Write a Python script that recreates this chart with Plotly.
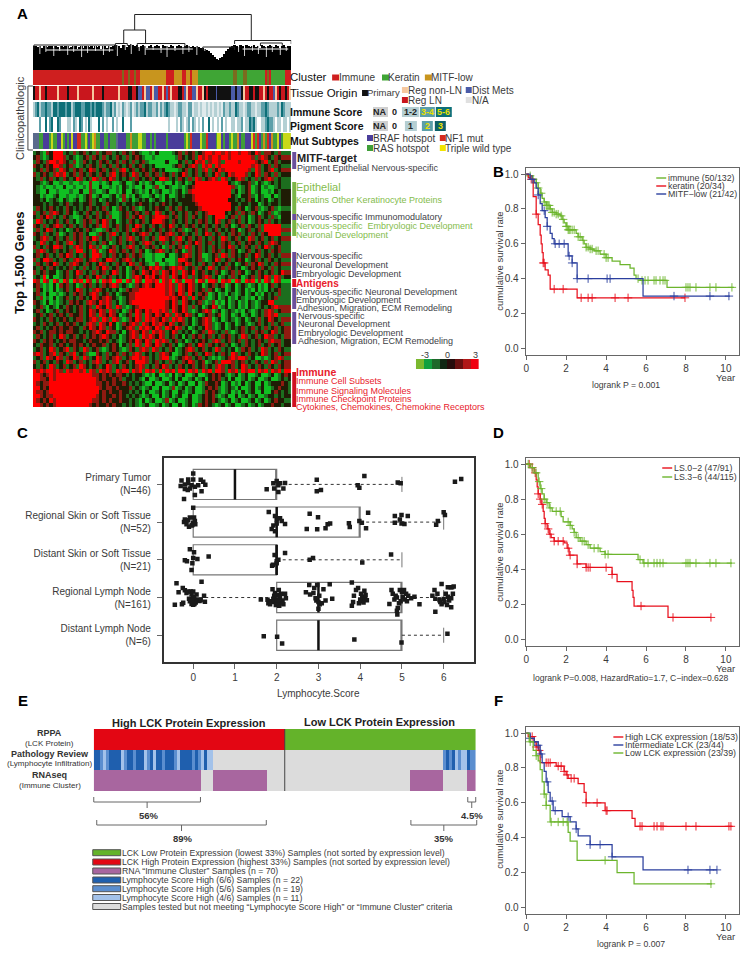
import numpy as np
import plotly.graph_objects as go

W, H = 748, 956
FONT = "Liberation Sans"
DARK = "#3a3a3a"

# ---------- Panel A data ----------
dendro_x = [50.7,50.7,109.4,109.4,None,45.2,45.2,56.2,56.2,None,101,101,129.5,129.5,None,114,114,125,125,None,
            41,41,47,47,None,52,52,76,76,None,0,0,41,41,None,85,85,101,101]
dendro_y = [40,55.5,55.5,30,None,27,40,40,27,None,26,29.5,29.5,26,None,24,27,27,24,None,
            24,26.5,26.5,24,None,22,26.5,26.5,22,None,20,25,25,20,None,20,23,23,20]
dendro_low_x = [6,40,None,56,80,None,105,128]
dendro_low_y = [20,20,None,21,21,None,21,21]
leaf_heights = [24,24,23,24,22,24,24,23,24,24,22,24,23,21,24,23,24,24,22,23,24,24,21,23,24,22,24,24,23,24,
                22,24,23,24,21,24,24,22,24,23,24,25,25,24,22,25,25,23,25,26,25,24,25,23,24,25,24,22,24,25,
                23,24,25,24,22,25,24,24,23,25,24,22,24,25,24,23,24,25,24,23,24,23,24,23,22,22,21,20,19,17,
                15,13,11,10,12,13,16,19,21,23,24,25,24,23,25,24,22,25,24,23,24,25,23,24,22,25,24,23,24,25,
                24,23,25,24,22,24,25,23,24,24]
split_x = [3,6,10,13,17,20,24,27,31,35,38,42,46,49,53,56,60,64,67,71,75,78,82,86,103,106,110,113,117,120,124,127]
split_h = [16,18,14,19,15,18,13,17,19,15,18,14,20,16,19,15,20,17,13,19,16,18,15,19,18,14,19,16,13,18,15,19]
cluster = "I"*45 + "OIIOIIOII" + "M"*13 + "IIII" + "MMMM" + "II" + "MM" + "I" + "MMM" + "K"*18 + "OO" + "KKK" + "OO" + "K"*9 + "IOI" + "K"*7 + "III"
tissue = "".join(["KRRPRRKRRR","RRPRRRRKRR","RRPRRRRRRR","PRRRRKRRRR","RRRPRRRRKK","RRKBBRPBBR","PBBRRPRBRP","RRRKKRBPRR","BBPRRPKRKK","KKBKKKKKKK","BBKBBKPRRK","KRKKRRPRKR","RBPRKRRKRP"])
immune = "".join(["abcabbcbba","ccbcccbcca","bcccbbcccb","cbcccbabbc","abNaNbaNab","Nababbcabb","aabNbabcba","aNabbaaNbb","NaaNaNNaNa","NaaNaNbaab","aacbaaNabb","aaNaabbcba","aaabacbaaa"])
pigment = "".join(["NNNbNNcNbc","NNcbNNNaaN","baNcbNaNca","NNNcNbNaNN","bNaNNcNNNb","NNNNNNNNNN","NNNNNNNNaN","NNaNbaNabN","baNaNbNNcN","aNNaNbNaNN","aaNaabNaac","bcaNNaabcb","baNaaNaaNa"])
mut = "".join(["VVVGGBBBGY","GGBBYGBGBY","BBRRGGYGBG","YOGGBBGGBG","GGVBBBBGGO","GGGYYGGBBG","BGBBBBBGBB","BBBBBBGYGR","BBBBYGGRBB","BBGYYBGBBG","YGGOBGGBBB","YRGRBGOGRB","OGGYBGYYYY"])
heat_rows = [
"gkgGrkRRRgkgrgkrgkgrgkrrgkgrkgrkgGGgGkGGGGgkrgrkrgkrRRrRRrRrRRrRRrkRrgrrkgrg",
"krgGgkRRRrgkgGgkrgrkgrgkgrkgrgkrkgGGgGGGGGGgrkgkrgRrRrRRrRRrRRRRRRrgrRrkgrkr",
"grkgrRRrRrkgrGgrkgkgrkrgkrgrkgrgkrgGGGGGkGGGkgrgkRrRgrRRrgRRRRrRRRRrkrRgkrgk",
"rkgkrkRRrgkrgGgkgrkgrgkrgrkgkrgkrgkgkGGGGGgkrgkrRrgRrRgRrRRRRRRRRRrRrgkrgrkg",
"gkrgrkrgRrkgrkrgkRrgkrgkrgrRgkrgkrkgrkgkGGGGgkrgkrgrRgrkRrRRRRRRRrgRrgkrRgkr",
"rgkrkgrRrRgkrgrkgrkgrkgrRgkrkgRrgkrgkrgrkgrgkRrgkrgkrgkRrgkRrRRRrgkRrgrkgrgk",
"kgrgkrgkgrkgkRrgkgRrgrkRrgkgkrgrkgkrgkRRrgkgrkgrgRrgkrRrgRrgkrRrgkgrgkrRrgkg",
"kkgGgkGGgGGgGGgGGrGGgGgkGGgkGGgkGgGgkGGgGGkGgkGgkRRRRRRRRRRkgGgkkrgGkgGgkgkg",
"kgGgGGgGGkGGgGGgGrGGkGGgGgGkgGgGGkGGgrGGkgGGgGgkrRRRRRRRRRRRrgGgkrGgkGgGGgkg",
"kgGGkGGgGGGgGGkGGrgGGgkGGgGkGGkgGgGkGgkGGgGgkGgrRRRRRRRRRRRRgkGgkrGgkGGgGkgk",
"kkGgGGgkGGgGGgGgkrGgkGGgkGgrGgGkgGGgkGgGkGGgkgkkrRRRRRRRRRRRkgGkkrgGkgGGkGgk",
"kkgkGgkgGkgGgkGgkrgkGgkgkgGrgkGgkgkGgkgGkgkgkkkkrRRRRRRRRRRkkgkgkrkGkgkGgkgk",
"kkkgkgkkgkrgkkgkkrgkkgrkkgkgkkgkrkkgkgkrkgkkgkkkkrRRRRRRRRRRkkgkkgkkGgkgkkgk",
"grkgkrkgkgrkgkgkgrkgkrgkGgrkgkrgGgkgkrkkgrkgrkgkkkrRRRRRRRRRkgrkGgkrgGgkrgGg",
"rgkrgrRrkgrkGgkgrkgrgkrgGGgkrgkrkgrkgRrgkgrkgkrgkrgkrRRRRRkgkrgrkgrkGgkrgGgk",
"kgrkRrgkgrkgGGgkrgkrgkgrGGgkrgrkRrgkrRRRrgkrgkrgrkgkrgkRRRgkrgrgkGgkrgkgrgGk",
"gRrgkgkrgkrgkGgrkrgrkRrgkGgkgrkgkrgkRRRrkgrkgkrgkgrkrgkRrgkrgkrgkGgkrkgrgkgk",
"rkgrgkrRrgkrgkgrkgkrgRrgkrgkrgkRrgkgrkgrkRrgkgrkrgkgrkgrkgrkGgkrgrkgrgRRRRRg",
"grgkRrgkgkGgkrkgrkgGGgrkgrgkrgRrkgkrgkrgkrgkrgGgkrgkrgkrgkgkrkGgkrgkrgRRRRRr",
"rkgrgkgrGgkgrkrgkGGgrkgrRgkgrkgkrRrgkgrkrRrgkrgkgrgkRrgkrgkgrkrgkgrkgrkRRRRg",
"gkrRrgkrgkrgrkrgrkRrgkgrgkrgrRrgkrgkrgRRrkgrRgkrgkrgkgrkgRrgkrgkgRrgkrgkrgkr",
"kgRrgkgrkgrRgkrgkrgkgrkGgkrgkgrkgrRrgkgrgkrgrkgrkRrgkrgkgrkrgkrgkrkgrkgrRrkg",
"rgkgrkRRrgkgrRrgkRrgrGgkrgkgrRrgkgrkrgkGgrgkrgRrgkrgkgrkgrkRrgkgrkgrgkRrgkrg",
"grRrgkrgkgkrgRRgkgRrGgkRrgkrgkrgrkGgkrRrgkgrkGgrgkrgkgrkrgkgrkGgkrgkrgkgrkrg",
"krgkrgkgrkRrgkgrkgRRrgkgrkgkrgrkrgGGgGGGkGGgkrRrgkrGGgkrgRrgrkgkrgkRrgkrgkgr",
"rgkRRrgkgrkgrRrgkrRrgkRRrgkrRrgkgkGGgGGkGGGgRRrkgkrgGgkRrgkrgkrkGgkrgkgrkgkg",
"grkgrkRrgkgrRrkgrkgkRrgkgrkgkRrgrkgGGrGGgGGgrkRrgkgrkgrkgkrgkGgkrgrkRrgkgrkr",
"kgrkgrkgkgkrgkgrgkgrkRrgkrgkGgkrgrkRrRrgkrRrRrgkrgrkgRrgkrgrkgkGgkrkgrkgrgkg",
"rgkrgkkGgkrgkRrgkgrgkrgkRrgkGgrkgRrkRrgRrkRrgRrkRgkrgkgrkGgkrgrkGgkgrkgkrgkRr",
"gkgRGkGGgkrgkrgkrgkRrgkrgkgkGgrRrkRrRkrRrgRrkRrgrgkrRrgkGgkgrgkGgkrgrkRrgRrgk",
"RrGRrGRrGRrGRrRGRrGrGRrRGRRGRrGRrGRRrRGRrRGRrGRRrGRrGRRrGRrRGRrGRrRGrGRrGRrG",
"krgGgGkGrkrgkGgrkrgkgrkrRrgkgGgrkrRrkRRRrRrgRrkRrgkGgkrgkrGgkGgkgGgkGgGkrgkg",
"grkGgGkGgkrgkRrgkgrRrkgkgkGgrkrrRRRRRRRRrRrgRrkRrgkrgrkGgkGgkGgkGgGkGgGkgkrg",
"krgGkGGgGgkgrkrgkrRrgkrgkGgkkrrRRRRRRRRRrRrkRrgRkgrkrGgkGgGkgGgkGgkGgGkgkgrg",
"kgrGgGkGgkrgkgrkgkRrkrRrkgGgkrrRRRRRRRRRRrRrkRrgRgkrgGgkGgkGgGkgGgGkGgkgkrg",
"rkgGkGgGgkgrkrkgrRrkRrRrgkGgkrRRRRRRRRRRrkRrgRrkgkrgGgrGgGkGgkGgGkgGgkkRRg",
"gkrgGkgGkgrkgkrgkrgRrkRrgRrgGgkrRRRRRRRRrkRrkRrgrgkGgkRrGgkGgkGgGkgGgkgkrRrr",
"krgkGgkrgkrkgkrgkRrkRrgRrgkGgrkRrkRrRRrRrgRrkRrgGgkrRrGgkGgkgGgGkgGgkgrRrgkr",
"gkrgkrgkrkgrkkrgkRrgRrkRrkGgkrgRrgRrkRrkRrgRrkRrgkGgkrgkrGgkGgkGgkGgkgrRrRg",
"rkgkgrkgkrkgkrrgkrRrgRrgRrgGgrkRrgRrRrkRrgRrRrgkGgkrRrGgkGgkgGgkGgkgrgkRrkgr",
"gkgrkgkrgkrkrgkgrRrgRrkRkGgrkrRrgRrkRrRrkRrgkrgkGgkrRrgGgkGgkGgkgGgkrgkgrgkrg",
"krgkgkrkrkkrkkgrkRrkRrgrkGgkrRrgRrRrkRrgRrkRrgkGgkgkRrgGgkGgkgkrgkrgkgrgkrgkr",
"rkrgkrrkrkrrkkgkgkrRrkRrrgkGkrRrkRrgRrRrgkRrgkgkGgkrgRrgkgrgGgkrgkgrkrgkRrgkr",
"grkgkrgkRrgkrgkrgkrkrRrkgkGgkrRrgRrRrkRrgkrgkGkgrkrgkrgkgrkrgkgRrgkrgkRrrgkgr",
"rkgrkrkgkrkrrkkgkrkkrkrgkgGgkrkRrkRrgRrRrgkrgkGgkgkrkgrRrgkrgkrgrkgkrkgrRrrgk",
"kgrkkrgkrkgkrkrkgkrkkrgkrkGkgrgRrgRrkRrgkrgkGgkrgkRrgrkgkrgkGgkgrkgkrgkrgkrgk",
"gkrgkRrgkrRgrkgRrgkrgGgkrkgGgrkgrRrgRrgkgrkGgkrRrgkrgkgRrgkgkGgrkrgkgRrgkgrkg",
"rRrgkrRgrkgrRgkrgGGrkgrgkrgrkgrRrgkgkgrRrkGGgkrgkrgkRrgkgrkgRrgkgrkgkRrgkrgkr",
"gkrgRrkRrgrkRrgRrgkRrgrkrRrgkrRRrRrgkgrRRgGgkrRrgkrgkgGgGgkrRrRRrgkGGgGgkrRrg",
"rgkrgkgrkgRrgkrgkgrRrgkgrRgkrgkRRRrgkrgkgrgkgrkRrgkrGgkrgRRRrgkrgkgrkgrgRrgkr",
"kgrkgRrgkrgkrgRrkgkrgkRrgkgrkgkrRrgkgrkRrgkgrkgkrgkrgkgrRrgkrgkRrgkgrkgrkgrkr",
"RrRrRRrRrgRrRRrRgRrgRrRrgRrRRgRrRgRrRgRgRrRgRRgRrRgRrRgRRrgRrRgRrRRgRrRgRrRgR",
"RRrkrRrRRRRRRRRRRRrrkrkrkrrkgkgkkgGgGkGGgGkGgkGGgkGGgkrkrkgGgkGgkGGgkGGgkGgkrk",
"RRrrkRrRRRRRRRRRRRRrkrkkrkrgkkgkgGkGGgkGGgkGkGGgkGgkGkrkrgkGkGGgkGgkGGgkGGgkgk",
"RrkrrRRRRRRRRRRRRRRrrkrkrkkrkgkgkgGGkGGgkGgkGgkGGkGgrkkrkGgkGgGkGgkGGkGgkkkrkg",
"RRkrkRRRRRRRRRRRRRRRrkrrkrkkkrgkgGgkGGkGGgrGgkGgkGGgkrkrgGgkgGkGGgkGgkGGgkrkkg",
"RrrkrRRRRRRRRRRRRRRRkrkrkkrkkgkgkGkGGgkGgkGGkgGgkGGgrkrkgGgkGgGkGgkGGkGGkrkgkg",
"RRrkrrRRRRRRRRRRRRRrkrkkrkrkgkgkgGgkGGkGgkGgkGGkGGgkrkrgGgkGGkGgkGgkGGgkkgkgk",
"RrkrkRrRRRRRRRRRRRrrkrkrkkrkkgkgGkGgkGGgrGgkGGgkGGgkrkrkgGgkGgkGGgkGgkGgkrkkg",
"RRrkrkrRRRRRRRRRRrkrkkrkrkkgkgkgGgkGGgkGgkGGkGgkGgrkrkgGgkGgkGGgkGgkGgkkrkkgk",
]
key_values = [-3,-2,-1,-0.3,0.3,1,2,3]

# ---------- Panel C data ----------
c_rows = [1,2,3,4,5]
c_labels = ["Primary Tumor<br>(N=46)","Regional Skin or Soft Tissue<br>(N=52)","Distant Skin or Soft Tissue<br>(N=21)",
            "Regional Lymph Node<br>(N=161)","Distant Lymph Node<br>(N=6)"]
c_q1 = [0,0,0,2,2]; c_med = [1,2,2,3,3]; c_q3 = [2,4,2,5,5]
c_low = [0,0,0,0,2]; c_high = [5,6,5,6,6]
r1_x = [0.0,-0.12,0.0,-0.28,0.18,0.24,-0.30,-0.2,-0.12,-0.04,0.04,0.12,0.29,-0.2,-0.08,0.2,0.04,-0.22,-0.13,1.76,1.92,2.0,2.08,2.2,1.94,2.04,2.16,2.04,2.96,2.96,3.06,4.1,3.94,3.98,4.9,4.97,6.27,6.42]
r1_j = [-.29,-.13,-.13,-.1,-.12,-.07,.04,0,-.03,.02,.06,.02,.01,.12,.11,.18,.28,.39,.15,.13,-.03,-.09,-.03,-.04,.11,.2,.11,.02,-.12,.18,.15,-.22,.02,.09,-.05,-.03,-.07,-.14]
r2_x = [0,0.02,-.08,-.2,-.22,-.16,-.04,.04,-.1,0,-.02,.05,-.12,1.81,1.96,2,2.08,2.12,1.92,1.88,1.96,2,2.2,2.79,2.99,2.72,2.97,3.17,3.22,3.28,3.73,3.75,3.98,4.04,4.14,4.19,4.83,4.83,4.95,4.99,4.99,5.06,5.14,5.82,5.86,6,6.03]
r2_j = [-.38,-.12,-.12,-.07,0,.06,.09,-.03,.12,.02,.08,.06,-.05,-.27,-.16,-.07,-.1,-.03,.09,.18,.24,.04,.05,-.22,-.13,.18,.19,.16,.06,.04,.03,.13,-.03,.02,.16,-.25,-.16,.02,-.07,-.19,.04,.05,-.16,.07,-.03,-.26,-.19]
r3_x = [-.08,.02,0,.1,.37,-.2,-.15,-.02,-.04,1.95,2.2,1.91,1.89,2,2.04,2,2.79,2.87,4.05,4.74]
r3_j = [-.28,-.2,-.05,-.02,-.09,.01,.04,.09,.27,-.13,-.18,.13,.16,.04,0,.09,0,-.05,.07,-.14]
r4_x = [-.44,-.4,-.35,-.25,-.24,-.2,-.16,-.12,-.1,-.06,-.04,-.02,0,0,.02,.04,.06,.08,-.08,-.04,0,.03,.06,.1,.15,.2,.26,.28,.18,-.27,-.02,.02,
        1.62,1.78,1.8,1.84,1.86,1.9,1.92,1.94,1.96,1.98,2,2.02,2.04,2.06,2.08,2.1,2.14,2.16,2.2,2.22,1.94,2,2.05,2.1,2.03,
        2.7,2.78,2.8,2.88,2.9,2.93,2.95,2.97,3,3,3.02,3.03,3.08,3.12,3.17,3.27,3.33,
        3.8,3.8,3.83,3.85,3.9,3.95,3.97,4,4.02,4.03,4.05,4.08,4.1,4.12,4.13,4.16,
        4.7,4.75,4.78,4.82,4.85,4.88,4.88,4.89,4.9,4.93,4.95,4.97,5,5.02,5.05,5.07,5.1,5.12,5.15,5.22,5.3,5.42,
        5.73,5.78,5.8,5.8,5.85,5.9,5.92,5.95,5.95,6,6.02,6.05,6.08,6.1,6.1,6.13,6.17,6.18,6.18,6.2,6.22,6.24]
r4_j = [.19,-.38,-.14,-.25,.14,-.19,-.12,-.16,.03,-.16,-.08,.05,-.16,.02,.13,.08,.13,-.08,.1,.17,.19,.17,.09,.05,.09,-.42,-.05,.11,.07,.18,.06,-.02,
        .05,.06,.15,.18,.1,-.22,.03,.12,-.12,.2,.05,-.06,.14,.22,.02,-.1,.08,.18,-.1,.02,-.05,.16,-.2,.13,.08,
        -.14,-.33,-.08,-.12,-.25,.02,.08,-.33,.12,.3,-.05,.18,.15,-.22,.08,-.35,.03,
        -.4,.22,.12,-.05,-.2,-.25,.15,.05,-.1,.1,-.02,.13,-.18,.04,-.07,.07,
        .17,-.2,-.1,.05,-.05,0,.35,.45,.28,.15,-.2,.1,-.15,-.02,-.2,.05,-.1,.1,-.05,.02,-.02,.18,
        -.05,-.2,.03,.38,-.1,.07,.12,-.36,.18,.04,.12,-.1,.2,-.27,-.02,.08,-.27,.02,.26,-.27,-.1,-.29]
r5_x = [1.69,2.01,2.13,3.86,4.99,6.09]
r5_j = [.03,.04,.22,.11,.19,-.04]

# ---------- Survival data ----------
b_imm_t = [0,.1,.3,.5,.6,.7,.8,.9,1,1.2,1.3,1.5,1.7,1.8,1.9,2,2.1,2.5,2.6,2.8,2.9,3,3.2,3.4,3.7,4,4.3,4.7,5.2,5.4,5.5,5.7,7.05,10.4]
b_imm_s = [1,.99,.97,.95,.92,.89,.86,.84,.82,.8,.78,.77,.76,.74,.72,.7,.68,.66,.64,.62,.6,.58,.57,.56,.54,.52,.5,.48,.46,.42,.4,.39,.35,.35]
b_imm_c = [.2,.35,.5,.6,.75,.9,1,1.05,1.1,1.15,1.2,1.3,1.4,1.5,1.6,1.75,1.85,2,2.05,2.1,2.15,2.2,2.3,2.4,2.6,2.7,2.85,3,3.1,3.2,3.3,3.5,3.6,3.9,4,4.1,5.6,5.8,5.95,6.1,6.4,6.5,6.7,6.85,6.95,8,8.1,8.2,8.5,9.2,9.5,10.3]
b_ker_t = [0,.1,.2,.35,.5,.6,.7,.75,.8,.85,.95,1.1,1.2,2.55,7.95]
b_ker_s = [1,.98,.97,.87,.77,.71,.65,.6,.55,.49,.45,.42,.34,.29,.29]
b_ker_c = [.25,.5,.85,.9,1.4,1.85,2.75,3.1,3.3,4.45,5.1,7.95]
b_mit_t = [0,.2,.4,.5,.6,.7,.8,.95,1.05,1.2,1.3,1.4,2.1,2.3,2.55,5.85,10.2]
b_mit_s = [1,.97,.95,.92,.88,.83,.79,.75,.7,.66,.63,.6,.53,.49,.4,.3,.3]
b_mit_c = [.3,.6,.9,1.05,1.45,1.65,1.9,2.15,2.3,2.55,3.1,4.05,4.2,7.4,9.2,10.15]
d_low_t = [0,.2,.4,.5,.55,.6,.7,.75,.85,.9,.95,1.05,1.15,1.25,1.4,1.9,2.05,2.15,2.55,3,4.3,4.55,5.3,5.35,5.4,7.1,9.25]
d_low_s = [1,.98,.95,.91,.87,.83,.8,.77,.73,.69,.66,.63,.6,.58,.56,.55,.52,.48,.43,.41,.37,.33,.28,.24,.19,.125,.125]
d_low_c = [.15,.3,.45,.6,.7,.8,.95,1.1,1.2,1.4,1.6,1.85,2.1,2.2,2.55,3,3.1,3.2,4,4.3,5.75,7.35,9.25]
d_hi_t = [0,.2,.4,.6,.7,.8,.9,1,1.15,1.3,1.75,1.85,2.2,2.3,2.4,2.5,2.7,3,3.2,3.7,3.95,5.6,5.85,10.3]
d_hi_s = [1,.98,.95,.9,.86,.83,.8,.78,.75,.73,.7,.67,.65,.63,.61,.58,.56,.54,.52,.5,.485,.455,.435,.435]
d_hi_c = [.1,.3,.5,.65,.75,.9,1.05,1.2,1.5,1.7,2.1,2.2,2.4,2.6,2.8,2.9,3.1,3.4,3.6,3.95,4.1,5.7,5.9,6.1,6.4,6.55,6.7,6.85,8,8.1,8.2,8.5,9.2,9.5,10.25]
f_hi_t = [0,.1,.4,.5,.6,.7,1.5,1.9,2,2.1,2.6,2.9,3,3.95,5.3,5.45,10.3]
f_hi_s = [1,.98,.95,.92,.9,.83,.81,.78,.76,.74,.71,.66,.6,.555,.51,.465,.465]
f_hi_c = [.3,.5,.65,1,1.1,1.2,1.6,1.75,1.9,2.05,2.25,2.4,3,3.55,4,4.05,5.7,5.8,6.4,6.55,6.75,6.85,8,8.5,10.15,10.25]
f_mid_t = [0,.2,.4,.6,.7,.8,.9,1,1.1,1.2,1.35,1.8,2.2,2.5,2.6,3.2,4.3,5.85,9.55]
f_mid_s = [1,.97,.95,.93,.88,.83,.78,.72,.66,.61,.555,.52,.49,.45,.41,.36,.29,.215,.215]
f_mid_c = [.2,.4,.6,.75,1.05,1.3,1.45,2.1,2.5,3.2,3.7,4.3,8.1,9.2,9.55]
f_low_t = [0,.15,.35,.5,.6,.7,.8,.9,1,1.2,2.1,2.2,2.55,4.55,5.4,9.3]
f_low_s = [1,.95,.9,.87,.84,.79,.72,.65,.585,.49,.43,.38,.27,.2,.135,.135]
f_low_c = [.2,.5,.9,1,1.25,1.6,1.85,2.05,3.95,9.25]

# ---------- Panel E data ----------
rppa = "H"*64 + "L"*64
pathology = "1123211113211211132131121112311112123133" + "0"*77 + "21213233122"
rnaseq = "P"*36 + "0"*4 + "P"*18 + "0"*48 + "P"*11 + "0"*8 + "P"*3

RED, GREEN, BLUE = "#e8101c", "#6cb52d", "#2b3f9e"

fig = go.Figure()
layout = {}
ax_n = [0]
def P(x, y):
    return x / W, 1 - y / H
def axes(x0, y0, x1, y1, xa=None, ya=None):
    ax_n[0] += 1
    n = ax_n[0]
    xa = dict(xa or dict(visible=False)); ya = dict(ya or dict(visible=False))
    xa.update(domain=[x0 / W, x1 / W], anchor=f"y{n}")
    ya.update(domain=[1 - y1 / H, 1 - y0 / H], anchor=f"x{n}")
    layout[f"xaxis{n}"] = xa; layout[f"yaxis{n}"] = ya
    return f"x{n}", f"y{n}"

def strip(rows, palette, box):
    n = len(palette); keys = list(palette)
    ln = max(len(r) for r in rows)
    z = [[keys.index(c) + .5 for c in r.ljust(ln, r[-1])] for r in rows]
    cs = []
    for i, k in enumerate(keys):
        cs += [[i / n, palette[k]], [(i + 1) / n, palette[k]]]
    xr, yr = axes(*box, ya=dict(visible=False, autorange="reversed"))
    fig.add_trace(go.Heatmap(z=z, colorscale=cs, zmin=0, zmax=n, showscale=False, xaxis=xr, yaxis=yr, hoverinfo="skip", xgap=0, ygap=0))

anns, shapes = [], []
def text(x, y, s, size=9.5, color=DARK, anchor="left", bold=False, angle=0):
    if anchor == "left":
        x -= 2
    px, py = P(x, y)
    anns.append(dict(x=px, y=py, xref="paper", yref="paper", text=f"<b>{s}</b>" if bold else s, showarrow=False,
                     xanchor=anchor, yanchor="middle", textangle=angle, borderpad=0,
                     font=dict(family=FONT, size=size, color=color)))
def rect(x0, y0, x1, y1, color, line=None):
    a, b = P(x0, y0); c, d = P(x1, y1)
    shapes.append(dict(type="rect", xref="paper", yref="paper", x0=a, y0=b, x1=c, y1=d, fillcolor=color,
                       line=dict(color=line or color, width=1 if line else 0)))
def seg(pts, color="#555", width=1):
    for (x0, y0), (x1, y1) in zip(pts, pts[1:]):
        a, b = P(x0, y0); c, d = P(x1, y1)
        shapes.append(dict(type="line", xref="paper", yref="paper", x0=a, y0=b, x1=c, y1=d, line=dict(color=color, width=width)))

# ---------- A ----------
xr, yr = axes(31, 14, 290, 70, xa=dict(visible=False, range=[-.5, 129.5]), ya=dict(visible=False, range=[0, 56]))
fig.add_trace(go.Bar(x=list(range(len(leaf_heights))), y=leaf_heights, marker=dict(color="black", line_width=0), width=.92, xaxis=xr, yaxis=yr, hoverinfo="skip"))
sx, sy = [], []
for a, b in zip(split_x, split_h):
    sx += [a, a, None]; sy += [b, 30, None]
fig.add_trace(go.Scatter(x=sx, y=sy, mode="lines", line=dict(color="white", width=.8), xaxis=xr, yaxis=yr, hoverinfo="skip"))
fig.add_trace(go.Scatter(x=dendro_x, y=dendro_y, mode="lines", line=dict(color="#222", width=1), xaxis=xr, yaxis=yr, hoverinfo="skip"))
fig.add_trace(go.Scatter(x=dendro_low_x, y=dendro_low_y, mode="lines", line=dict(color="white", width=1), xaxis=xr, yaxis=yr, hoverinfo="skip"))

strip([cluster], {"I": "#cf1f1f", "K": "#3fa535", "M": "#c8951e", "O": "#7c6a1f"}, (31, 70, 290, 85))
strip([tissue], {"K": "#111111", "R": "#c9161d", "P": "#f6c79e", "B": "#4a5ba8"}, (31, 86, 290, 100))
strip([immune], {"N": "#dfeaec", "a": "#b4d0d4", "b": "#5b9fa9", "c": "#0d6f78"}, (31, 102, 290, 117))
strip([pigment], {"N": "#ffffff", "a": "#b4d0d4", "b": "#5b9fa9", "c": "#0d6f78"}, (31, 117, 290, 132))
strip([mut], {"V": "#5a6a8c", "B": "#4a3d9a", "G": "#3f9e38", "Y": "#c8d81a", "R": "#d52b1e", "O": "#d08a1e"}, (31, 133, 290, 149))
strip(heat_rows, {"R": "#ff0000", "r": "#8f1a10", "k": "#1f1c05", "g": "#1c6e1e", "G": "#10c022"}, (31, 151, 290, 407))

xr, yr = axes(415, 359, 478, 369)
fig.add_trace(go.Heatmap(z=[key_values], zmin=-3, zmax=3, showscale=False, xaxis=xr, yaxis=yr, hoverinfo="skip",
    colorscale=[[0, "#7ab82e"], [.17, "#10a040"], [.33, "#1f6b2c"], [.5, "#0a0a0a"], [.67, "#6b1010"], [.83, "#b01818"], [1, "#f00010"]]))
text(421, 355, "-3", 9); text(447, 355, "0", 9, anchor="center"); text(473, 355, "3", 9)

text(21, 14, "A", 15, "black", "center", True)
text(21, 432, "C", 15, "black", "center", True); text(21, 700, "E", 15, "black", "center", True)
text(498, 172, "B", 15, "black", "center", True); text(498, 432, "D", 15, "black", "center", True); text(498, 700, "F", 15, "black", "center", True)
text(18, 118, "Clinicopathologic", 11, DARK, "center", angle=-90)
text(18, 263, "Top 1,500 Genes", 13, "#111", "center", True, angle=-90)
seg([(31, 86), (26, 86), (26, 150), (31, 150)], "#444", 1)

text(290, 77, "Cluster", 11.5, "#111")
for x, c, t in [(331, "#cf1f1f", "Immune"), (381, "#3fa535", "Keratin"), (424, "#c8951e", "MITF-low")]:
    rect(x, 74.5, x + 7, 80.5, c); text(x + 7.5, 77, t, 10)
text(290, 93, "Tissue Origin", 11.5, "#111")
rect(361, 90, 367, 96, "#111"); text(367, 93, "Primary", 9.5)
rect(401, 87, 407, 93, "#f6c79e"); text(408, 90, "Reg non-LN", 10)
rect(401, 97, 407, 103, "#c9161d"); text(408, 100, "Reg LN", 10)
rect(465, 87, 471, 93, "#4a5ba8"); text(472, 90, "Dist Mets", 10)
rect(465, 97, 471, 103, "#e0e0e0"); text(472, 100, "N/A", 10)
text(290, 112, "Immune Score", 10.5, "#111", bold=True)
text(290, 126, "Pigment Score", 10.5, "#111", bold=True)
text(290, 141, "Mut Subtypes", 10.5, "#111", bold=True)
chips = [(372, 387, 112, "NA", "#cfcfcf", "#222"), (401, 418, 112, "1-2", "#b4ced2", "#222"), (419, 434, 112, "3-4", "#5b9fa9", "#e8e000"), (435, 451, 112, "5-6", "#0d6f78", "#e8e000"),
         (372, 387, 126, "NA", "#cfcfcf", "#222"), (404, 416, 126, "1", "#b4ced2", "#222"), (421, 432, 126, "2", "#5b9fa9", "#e8e000"), (434, 445, 126, "3", "#0d5f68", "#e8e000")]
for x0, x1, y, s, c, tc in chips:
    rect(x0, y - 5, x1, y + 5, c); text((x0 + x1) / 2, y, s, 9, tc, "center", True)
text(394, 112, "0", 9, "#222", "center", True); text(394, 126, "0", 9, "#222", "center", True)
for x, y, c, t in [(366, 138, "#4a3d9a", "BRAF hotspot"), (439, 138, "#d52b1e", "NF1 mut"), (366, 148, "#3f9e38", "RAS hotspot"), (439, 148, "#f2e500", "Triple wild type")]:
    rect(x, y - 3, x + 6, y + 3, c); text(x + 6.5, y, t, 10)

PUR, LG = "#6a4f9c", "#7ab648"
for y0, y1, c in [(152, 169, PUR), (182, 214, LG), (214, 220, PUR), (220, 236, LG), (252, 278, PUR), (279, 287, "#e01020"), (288, 309, PUR), (312, 344, PUR), (372, 407, "#d01020")]:
    rect(291, y0, 295, y1, c)
RT = "#e8202c"; LGT = "#84bc4c"; GT = "#3e3e46"
for x, y, s, sz, c, b in [
    (297, 158, "MITF-target", 11, "#222", True), (297, 167.5, "Pigment Epithelial Nervous-specific", 9, GT, False),
    (296, 187, "Epithelial", 11, LGT, False), (296, 200, "Keratins Other Keratinocyte Proteins", 9, LGT, False),
    (296, 217, "Nervous-specific Immunomodulatory", 9, GT, False), (296, 226, "Nervous-specific&nbsp;&nbsp;Embryologic Development", 9, LGT, False),
    (296, 234.5, "Neuronal Development", 9, LGT, False),
    (296, 256, "Nervous-specific", 9, GT, False), (296, 265, "Neuronal Development", 9, GT, False), (296, 274, "Embryologic Development", 9, GT, False),
    (296, 283.5, "Antigens", 10, RT, True), (296, 291.5, "Nervous-specific Neuronal Development", 9, GT, False), (296, 299.5, "Embryologic Development", 9, GT, False),
    (297, 307.5, "Adhesion, Migration, ECM Remodeling", 9, GT, False),
    (298, 316, "Nervous-specific", 9, GT, False), (298, 324.5, "Neuronal Development", 9, GT, False), (298, 333, "Embryologic Development", 9, GT, False),
    (298, 341, "Adhesion, Migration, ECM Remodeling", 9, GT, False),
    (296, 372, "Immune", 10.5, RT, True), (296, 381, "Immune Cell Subsets", 9, RT, False), (296, 390.5, "Immune Signaling Molecules", 9, RT, False),
    (296, 398.5, "Immune Checkpoint Proteins", 9, RT, False), (296, 407, "Cytokines, Chemokines, Chemokine Receptors", 9, RT, False)]:
    text(x, y, s, sz, c, bold=b)

# ---------- C ----------
xr, yr = axes(162, 458, 473, 662,
    xa=dict(range=[-.71, 6.72], tickvals=[0, 1, 2, 3, 4, 5, 6], ticks="outside", ticklen=5, tickcolor="#666", showline=True, mirror=True, linecolor="#333", linewidth=1.5, showgrid=False, zeroline=False, tickfont=dict(family=FONT, size=10, color=DARK)),
    ya=dict(range=[5.71, .3], tickmode="array", tickvals=c_rows, ticktext=c_labels, ticks="outside", ticklen=5, tickcolor="#666", showline=True, mirror=True, linecolor="#333", linewidth=1.5, showgrid=False, zeroline=False, ticklabelstandoff=4, tickfont=dict(family=FONT, size=10, color=DARK)))
fig.add_trace(go.Box(y=c_rows, q1=c_q1, median=c_q3, q3=c_q3, lowerfence=c_q1, upperfence=c_q3, orientation="h", width=.8,
                     fillcolor="rgba(0,0,0,0)", line=dict(color="#777", width=1.2), boxpoints=False, xaxis=xr, yaxis=yr, hoverinfo="skip"))
wx, wy, mx, my, cx, cy = [], [], [], [], [], []
for r, lo, a, m, b, hi in zip(c_rows, c_low, c_q1, c_med, c_q3, c_high):
    wx += [b, hi, None]; wy += [r, r, None]
    if lo < a:
        wx += [lo, a, None]; wy += [r, r, None]
    mx += [m, m, None]; my += [r - .4, r + .4, None]
    cx += [hi, hi, None]; cy += [r - .2, r + .2, None]
fig.add_trace(go.Scatter(x=wx, y=wy, mode="lines", line=dict(color="#333", width=1, dash="3px,3px"), xaxis=xr, yaxis=yr, hoverinfo="skip"))
fig.add_trace(go.Scatter(x=cx, y=cy, mode="lines", line=dict(color="#777", width=1), xaxis=xr, yaxis=yr, hoverinfo="skip"))
fig.add_trace(go.Scatter(x=mx, y=my, mode="lines", line=dict(color="#111", width=2.5), xaxis=xr, yaxis=yr, hoverinfo="skip"))
for r, xs, js in [(1, r1_x, r1_j), (2, r2_x, r2_j), (3, r3_x, r3_j), (4, r4_x, r4_j), (5, r5_x, r5_j)]:
    fig.add_trace(go.Scatter(x=xs, y=[r + j for j in js], mode="markers", marker=dict(symbol="square", size=4.5, color="#1a1a1a"), xaxis=xr, yaxis=yr, hoverinfo="skip"))
text(317, 693, "Lymphocyte.Score", 10, DARK, "center")

# ---------- Survival panels ----------
def km(box, curves):
    sx = dict(range=[-.03, 10.67], tickvals=[0, 2, 4, 6, 8, 10], ticks="outside", ticklen=4, tickcolor="#666", showline=True, mirror=True, linecolor="#666", linewidth=1, showgrid=False, zeroline=False, tickfont=dict(family=FONT, size=10, color=DARK))
    sy = dict(range=[-.038, 1.033], tickvals=[0, .2, .4, .6, .8, 1], tickformat=".1f", ticks="outside", ticklen=4, tickcolor="#666", showline=True, mirror=True, linecolor="#666", linewidth=1, showgrid=False, zeroline=False, tickfont=dict(family=FONT, size=10, color=DARK))
    xr, yr = axes(*box, xa=sx, ya=sy)
    for t, s, c, col in curves:
        fig.add_trace(go.Scatter(x=t, y=s, mode="lines", line=dict(shape="hv", color=col, width=1.25), xaxis=xr, yaxis=yr, hoverinfo="skip"))
        idx = np.searchsorted(t, c, side="right") - 1
        fig.add_trace(go.Scatter(x=c, y=np.array(s)[idx], mode="markers", marker=dict(symbol="cross-thin", size=6, line=dict(color=col, width=.9)), xaxis=xr, yaxis=yr, hoverinfo="skip"))
km((525, 168.3, 739.3, 355), [(b_imm_t, b_imm_s, b_imm_c, GREEN), (b_ker_t, b_ker_s, b_ker_c, RED), (b_mit_t, b_mit_s, b_mit_c, BLUE)])
km((525, 458.3, 739.3, 646), [(d_low_t, d_low_s, d_low_c, RED), (d_hi_t, d_hi_s, d_hi_c, GREEN)])
km((525, 727.3, 739.3, 914), [(f_hi_t, f_hi_s, f_hi_c, RED), (f_mid_t, f_mid_s, f_mid_c, BLUE), (f_low_t, f_low_s, f_low_c, GREEN)])
for y in (261, 552, 819):
    text(498, y, "cumulative survival rate", 9.5, DARK, "center", angle=-90)
for y in (377, 668, 936):
    text(717, y, "Year", 9.5, DARK)
text(625.5, 385, "logrank P = 0.001", 8.7, DARK, "center")
text(630.5, 677.5, "logrank P=0.008, HazardRatio=1.7, C\u2212index=0.628", 8.6, DARK, "center")
text(631, 944, "logrank P = 0.007", 8.7, DARK, "center")
for x, ys, items in [(656, [178, 186, 194], [(GREEN, "immune (50/132)"), (RED, "keratin (20/34)"), (BLUE, "MITF\u2212low (21/42)")]),
                     (662, [468, 477], [(RED, "LS.0\u22122 (47/91)"), (GREEN, "LS.3\u22126 (44/115)")]),
                     (613, [737, 745, 753], [(RED, "High LCK expression (18/53)"), (BLUE, "Intermediate LCK (23/44)"), (GREEN, "Low LCK expression (23/39)")])]:
    for y, (c, t) in zip(ys, items):
        seg([(x, y), (x + 10, y)], c, 1.4); text(x + 13, y, t, 8.8)

# ---------- E ----------
strip([rppa, pathology, rnaseq], {"H": "#e30613", "L": "#64b32a", "P": "#a8669f", "0": "#dcdcdc", "1": "#1f5fae", "2": "#5b8ecf", "3": "#a3c2ea"}, (92, 729, 475, 791))
seg([(283.5, 729), (283.5, 791)], "#444", 1)
text(187, 723, "High LCK Protein Expression", 11, "#222", "center", True)
text(379, 722, "Low LCK Protein Expression", 11, "#222", "center", True)
for y, s, sz, b in [(733, "RPPA", 9, True), (743, "(LCK Protein)", 8, False), (754, "Pathology Review", 9, True), (763, "(Lymphocyte Infiltration)", 8, False), (775, "RNAseq", 9, True), (785, "(Immune Cluster)", 8, False)]:
    text(48, y, s, sz, "#333", "center", b)
for x0, x1, y0, y1, y2 in [(92, 199, 797, 802, 808), (95, 265, 820, 825, 831), (467, 475, 797, 802, 808), (410, 476, 820, 825, 831)]:
    seg([(x0, y0), (x0, y1), (x1, y1), (x1, y0)], "#666", 1)
    seg([((x0 + x1) / 2, y1), ((x0 + x1) / 2, y2)], "#666", 1)
for x, y, s in [(147, 815, "56%"), (181, 838, "89%"), (471, 815, "4.5%"), (443, 838, "35%")]:
    text(x, y, s, 9.5, "#333", "center", True)
for y, c, s in [(852.7, "#64b32a", "LCK Low Protein Expression (lowest 33%) Samples (not sorted by expression level)"),
                (862, "#e30613", "LCK High Protein Expression (highest 33%) Samples (not sorted by expression level)"),
                (871, "#a8669f", "RNA \u201cImmune Cluster\u201d Samples (n = 70)"),
                (880, "#1f5fae", "Lymphocyte Score High (6/6) Samples (n = 22)"),
                (888.7, "#5b8ecf", "Lymphocyte Score High (5/6) Samples (n = 19)"),
                (897.5, "#a3c2ea", "Lymphocyte Score High (4/6) Samples (n = 11)"),
                (906.5, "#dcdcdc", "Samples tested but not meeting \u201cLymphocyte Score High\u201d or \u201cImmune Cluster\u201d criteria")]:
    rect(91, y - 3, 119, y + 3, c, "#555"); text(121, y, s, 8.7)

fig.update_layout(width=W, height=H, autosize=False, margin=dict(l=0, r=0, t=0, b=0), paper_bgcolor="white", plot_bgcolor="white",
                  showlegend=False, annotations=anns, shapes=shapes, bargap=0, **layout)
fig.write_html("out.html", post_script="document.body.style.margin='0';", config=dict(displayModeBar=False))
